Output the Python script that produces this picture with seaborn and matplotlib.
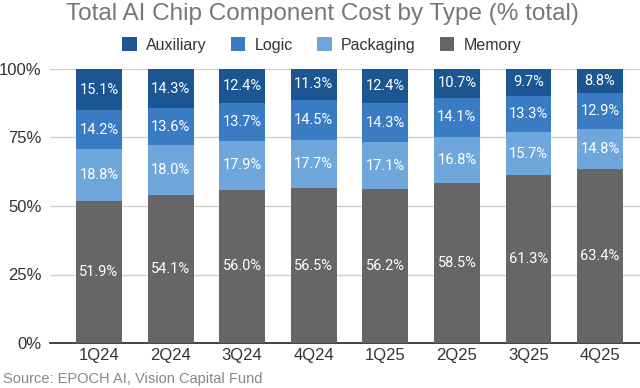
import matplotlib
matplotlib.use("Agg")
import matplotlib.pyplot as plt
import seaborn as sns
import pandas as pd
import numpy as np

quarters = ["1Q24", "2Q24", "3Q24", "4Q24", "1Q25", "2Q25", "3Q25", "4Q25"]
memory = [51.9, 54.1, 56.0, 56.5, 56.2, 58.5, 61.3, 63.4]
packaging = [18.8, 18.0, 17.9, 17.7, 17.1, 16.8, 15.7, 14.8]
logic = [14.2, 13.6, 13.7, 14.5, 14.3, 14.1, 13.3, 12.9]
auxiliary = [15.1, 14.3, 12.4, 11.3, 12.4, 10.7, 9.7, 8.8]
y_ticks = [0, 25, 50, 75, 100]

series = [("Memory", memory, "#666666"),
          ("Packaging", packaging, "#6fa6dc"),
          ("Logic", logic, "#3a7cc4"),
          ("Auxiliary", auxiliary, "#1b5592")]

sns.set_theme(style="white")
plt.rcParams['font.family'] = ['Liberation Sans', 'DejaVu Sans']

fig = plt.figure(figsize=(6.4, 3.88), dpi=100)
ax = fig.add_axes([50/640, 45/388, 590/640, 274/388])

cum = np.zeros(len(quarters))
tops = []
for name, vals, col in series:
    cum = cum + np.array(vals)
    tops.append((name, cum.copy(), np.array(vals), col))

# draw from tallest cumulative to shortest
for name, top, vals, col in reversed(tops):
    d = pd.DataFrame({"quarter": quarters, "v": top})
    sns.barplot(data=d, x="quarter", y="v", color=col, width=0.64,
                saturation=1, ax=ax, zorder=3, label=name, linewidth=0,
                edgecolor=col)

for name, top, vals, col in tops:
    for i, (t, v) in enumerate(zip(top, vals)):
        ax.text(i, t - v / 2, f"{v:.1f}%", ha="center", va="center",
                color="white", fontsize=10.5, family=["Roboto", "DejaVu Sans"], zorder=5)

ax.set_xlim(-0.685, 7.558)
ax.set_ylim(0, 100)
ax.set_yticks(y_ticks)
ax.set_yticklabels([f"{t}%" for t in y_ticks])
ax.set_xlabel("")
ax.set_ylabel("")
ax.grid(axis="y", color="#d0d0d0", linewidth=1, zorder=0)
for s in ["top", "right", "left"]:
    ax.spines[s].set_visible(False)
ax.spines["bottom"].set_color("#222222")
ax.spines["bottom"].set_linewidth(1.2)
ax.tick_params(axis="both", length=0, labelsize=12, labelcolor="#333333")
ax.tick_params(axis="y", pad=6)

handles, labels = ax.get_legend_handles_labels()
order = ["Auxiliary", "Logic", "Packaging", "Memory"]
hl = {l: h for h, l in zip(handles, labels)}
ax.legend([hl[o] for o in order], order, loc="center", bbox_to_anchor=(322/640, 1 - 45/388),
          bbox_transform=fig.transFigure, ncol=4, frameon=False, fontsize=11.5,
          handlelength=0.9, handleheight=1.0, columnspacing=1.5, handletextpad=0.6,
          labelcolor="#333333")

fig.text(322/640, 1 - 14/388, "Total AI Chip Component Cost by Type (% total)",
         ha="center", va="center", fontsize=17.5, color="#777777")
fig.text(3/640, 1 - 379/388, "Source: EPOCH AI, Vision Capital Fund",
         ha="left", va="center", fontsize=10.5, color="#888888")

fig.savefig("out.png", dpi=100)
